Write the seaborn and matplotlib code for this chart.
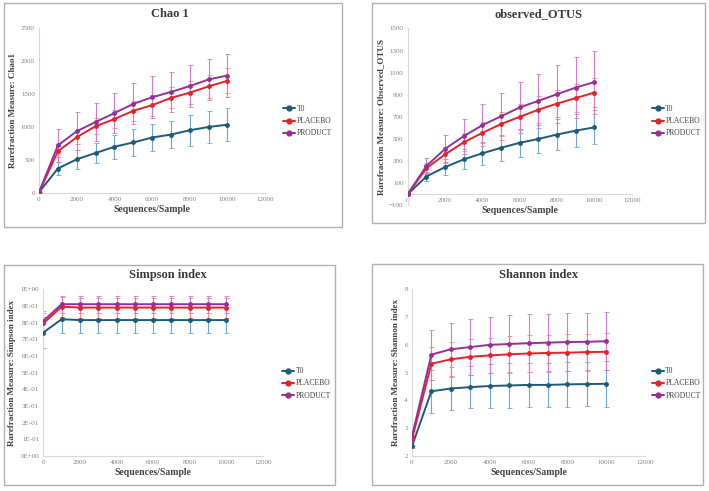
import numpy as np
import pandas as pd
import matplotlib
matplotlib.use("Agg")
import matplotlib.pyplot as plt
import seaborn as sns
from matplotlib.patches import Rectangle
from matplotlib.ticker import FuncFormatter

depth = [0, 1000, 2000, 3000, 4000, 5000, 6000, 7000, 8000, 9000, 10000]
groups = ["T0", "PLACEBO", "PRODUCT"]

chao_t0 = [10, 370, 510, 605, 700, 765, 840, 885, 950, 1000, 1035]
chao_placebo = [10, 630, 845, 1010, 1120, 1245, 1330, 1440, 1520, 1615, 1700]
chao_product = [10, 720, 935, 1075, 1210, 1350, 1450, 1530, 1620, 1720, 1780]
chao_t0_err = [0, 100, 145, 150, 180, 200, 210, 210, 235, 240, 250]
chao_placebo_err = [0, 80, 110, 120, 130, 150, 160, 160, 170, 180, 190]
chao_product_err = [0, 250, 290, 290, 300, 310, 320, 310, 320, 310, 320]

otus_t0 = [0, 160, 245, 315, 370, 420, 465, 500, 540, 575, 605]
otus_placebo = [0, 235, 360, 470, 555, 635, 700, 765, 820, 870, 920]
otus_product = [0, 255, 410, 525, 625, 705, 785, 845, 905, 965, 1015]
otus_t0_err = [0, 45, 70, 90, 105, 120, 125, 130, 140, 150, 155]
otus_placebo_err = [0, 45, 65, 80, 95, 105, 115, 120, 125, 130, 135]
otus_product_err = [0, 75, 125, 160, 190, 215, 230, 245, 265, 275, 285]

simp_t0 = [0.74, 0.82, 0.815, 0.815, 0.815, 0.815, 0.815, 0.815, 0.815, 0.815, 0.815]
simp_placebo = [0.795, 0.895, 0.89, 0.89, 0.89, 0.89, 0.89, 0.89, 0.89, 0.89, 0.89]
simp_product = [0.81, 0.91, 0.91, 0.91, 0.91, 0.91, 0.91, 0.91, 0.91, 0.91, 0.91]
simp_t0_err = [0.095, 0.08, 0.08, 0.08, 0.08, 0.08, 0.08, 0.08, 0.08, 0.08, 0.08]
simp_placebo_err = [0.06, 0.06, 0.06, 0.06, 0.06, 0.06, 0.06, 0.06, 0.06, 0.06, 0.06]
simp_product_err = [0.06, 0.05, 0.05, 0.05, 0.05, 0.05, 0.05, 0.05, 0.05, 0.05, 0.05]

shan_t0 = [2.35, 4.33, 4.43, 4.48, 4.52, 4.54, 4.56, 4.56, 4.58, 4.59, 4.60]
shan_placebo = [2.6, 5.32, 5.48, 5.57, 5.62, 5.66, 5.69, 5.71, 5.72, 5.74, 5.75]
shan_product = [2.7, 5.65, 5.84, 5.92, 6.0, 6.03, 6.06, 6.08, 6.1, 6.11, 6.13]
shan_t0_err = [0.4, 0.77, 0.78, 0.76, 0.78, 0.8, 0.8, 0.8, 0.8, 0.8, 0.82]
shan_placebo_err = [0.3, 0.6, 0.62, 0.64, 0.64, 0.65, 0.66, 0.66, 0.66, 0.66, 0.67]
shan_product_err = [0.35, 0.9, 0.95, 1.0, 1.0, 1.03, 1.04, 1.04, 1.05, 1.04, 1.05]

line_colors = {"T0": "#1d5a78", "PLACEBO": "#e3222a", "PRODUCT": "#962f96"}
err_colors = {"T0": "#6fa6cc", "PLACEBO": "#ee8a8e", "PRODUCT": "#d27ccb"}

sns.set_style("white")
plt.rcParams["font.family"] = ["Liberation Serif", "DejaVu Serif"]
text_col = "#404040"
tick_col = "#808080"


def panel(fig, rect, frame, title, title_xy, legend_xy, ylabel, ylim, yticks, series, errs, fmt=None):
    fig.patches.append(Rectangle((frame[0], frame[1]), frame[2], frame[3],
                                 transform=fig.transFigure, fill=False,
                                 edgecolor="#b0b0b0", linewidth=1.0))
    ax = fig.add_axes(rect)
    df = pd.DataFrame({
        "depth": depth * 3,
        "value": series[0] + series[1] + series[2],
        "group": ["T0"] * 11 + ["PLACEBO"] * 11 + ["PRODUCT"] * 11,
    })
    for g, e in zip(groups, errs):
        vals = df[df.group == g]["value"].values
        ax.errorbar(depth, vals, yerr=e, fmt="none", ecolor=err_colors[g],
                    elinewidth=0.8, capsize=1.8, capthick=0.6, zorder=2)
    sns.lineplot(data=df, x="depth", y="value", hue="group", hue_order=groups,
                 palette=line_colors, marker="o", markersize=3.5, markeredgewidth=0,
                 linewidth=1.4, ax=ax, zorder=3, legend=False)
    ax.set_xlim(0, 12000)
    ax.set_xticks(range(0, 12001, 2000))
    ax.set_ylim(*ylim)
    ax.set_yticks(yticks)
    if fmt is not None:
        ax.yaxis.set_major_formatter(FuncFormatter(fmt))
    ax.tick_params(axis="both", length=0, labelsize=5, colors=tick_col, pad=3)
    for s in ["top", "right"]:
        ax.spines[s].set_visible(False)
    for s in ["left", "bottom"]:
        ax.spines[s].set_color("#d9d9d9")
        ax.spines[s].set_linewidth(0.8)
    if ylim[0] < 0:
        # category axis crosses at zero, like the spreadsheet chart
        ax.spines["bottom"].set_position(("data", 0))
    ax.set_xlabel("Sequences/Sample", fontsize=7, fontweight="bold", color=text_col, labelpad=2)
    ax.set_ylabel(ylabel, fontsize=6.5, fontweight="bold", color=text_col, labelpad=3)
    fig.text(title_xy[0], title_xy[1], title, ha="center", va="center",
             fontsize=9, fontweight="bold", color="#3a3a3a")
    handles = [plt.Line2D([], [], color=line_colors[g], marker="o", markersize=3.5,
                          linewidth=1.4) for g in groups]
    fig.legend(handles, groups, loc="center left", bbox_to_anchor=legend_xy,
               bbox_transform=fig.transFigure, frameon=False, fontsize=5.5,
               handlelength=1.6, handletextpad=0.2, labelspacing=0.55,
               borderpad=0, borderaxespad=0, labelcolor=text_col)
    return ax


fig = plt.figure(figsize=(7.09, 4.91), dpi=100)

panel(fig, [0.055, 0.607, 0.319, 0.336], [0.005, 0.538, 0.478, 0.456],
      "Chao 1", (0.240, 0.971), (0.399, 0.753), "Rarefraction Measure: Chao1", (0, 2500),
      range(0, 2501, 500), [chao_t0, chao_placebo, chao_product],
      [chao_t0_err, chao_placebo_err, chao_product_err])

panel(fig, [0.575, 0.582, 0.316, 0.360], [0.525, 0.546, 0.470, 0.448],
      "observed_OTUS", (0.759, 0.971), (0.919, 0.753), "Rarefraction Measure: Observed_OTUS",
      (-100, 1500), range(-100, 1501, 200), [otus_t0, otus_placebo, otus_product],
      [otus_t0_err, otus_placebo_err, otus_product_err])

panel(fig, [0.061, 0.071, 0.310, 0.340], [0.005, 0.012, 0.467, 0.448],
      "Simpson index", (0.237, 0.440), (0.398, 0.219), "Rarefraction Measure: Simpson index",
      (0, 1.0), np.linspace(0, 1, 11), [simp_t0, simp_placebo, simp_product],
      [simp_t0_err, simp_placebo_err, simp_product_err],
      fmt=lambda v, p: "0E+00" if v < 0.05 else ("1E+00" if v > 0.95 else f"{int(round(v * 10))}E-01"))

panel(fig, [0.581, 0.071, 0.329, 0.340], [0.525, 0.012, 0.467, 0.450],
      "Shannon index", (0.759, 0.440), (0.919, 0.219), "Rarefraction Measure: Shannon index",
      (2, 8), range(2, 9), [shan_t0, shan_placebo, shan_product],
      [shan_t0_err, shan_placebo_err, shan_product_err])

fig.savefig("out.png", dpi=100, facecolor="white")
